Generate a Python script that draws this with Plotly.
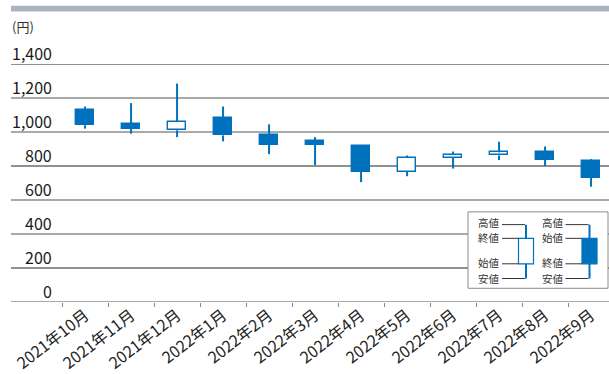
import plotly.graph_objects as go

# Monthly share price (yen)
months = ["2021年10月", "2021年11月", "2021年12月", "2022年1月", "2022年2月", "2022年3月",
          "2022年4月", "2022年5月", "2022年6月", "2022年7月", "2022年8月", "2022年9月"]
open_ = [1130, 1050, 1010, 1080, 980, 945, 915, 765, 848, 862, 885, 828]
high = [1150, 1170, 1285, 1150, 1045, 970, 915, 862, 885, 943, 915, 840]
low = [1020, 990, 970, 945, 870, 805, 705, 740, 785, 835, 800, 678]
close = [1040, 1020, 1060, 980, 925, 925, 765, 848, 865, 880, 835, 732]

y_ticks = [0, 200, 400, 600, 800, 1000, 1200, 1400]
dark_grid = {200, 800, 1400}

BLUE = "#0071BC"
FONT = "Noto Sans CJK JP"
W, H = 609, 374
ML, MR, MT, MB = 11, 0, 64, 67
PW, PH = W - ML - MR, H - MT - MB


def px_x(p):
    return (p - ML) / PW


def px_y(p):
    return (H - MB - p) / PH


fig = go.Figure()

# candle bodies
body_base = [min(o, c) for o, c in zip(open_, close)]
body_len = [abs(c - o) for o, c in zip(open_, close)]
body_fill = [BLUE if c < o else "white" for o, c in zip(open_, close)]
fig.add_trace(go.Bar(
    x=months, y=body_len, base=body_base, width=0.41,
    marker=dict(color=body_fill, line=dict(color=BLUE, width=1.4)),
    hoverinfo="skip", showlegend=False,
))

# wicks, split above and below the body
wx, wy = [], []
for m, o, h, l, c in zip(months, open_, high, low, close):
    top, bot = max(o, c), min(o, c)
    if h > top:
        wx += [m, m, None]
        wy += [top, h, None]
    if l < bot:
        wx += [m, m, None]
        wy += [l, bot, None]
fig.add_trace(go.Scatter(
    x=wx, y=wy, mode="lines", line=dict(color=BLUE, width=2),
    hoverinfo="skip", showlegend=False, cliponaxis=False,
))

shapes = []
annotations = []

# horizontal grid
for v in y_ticks:
    shapes.append(dict(
        type="line", xref="paper", yref="y", x0=0, x1=1, y0=v, y1=v,
        line=dict(color="#222222" if v in dark_grid else "#8c8c8c",
                  width=1 if v in dark_grid else 1.6),
        layer="below",
    ))
    annotations.append(dict(
        xref="paper", yref="y", x=px_x(54), y=v, xanchor="right", yanchor="middle",
        yshift=11, text=f"{v:,}", showarrow=False,
        font=dict(family=FONT, size=16, color="#1a1a1a"),
    ))

# header bar
shapes.append(dict(type="rect", xref="paper", yref="paper",
                   x0=px_x(11), x1=px_x(612), y0=px_y(4.5), y1=px_y(10.5),
                   fillcolor="#a9b4c0", line=dict(width=0), layer="below"))
annotations.append(dict(xref="paper", yref="paper", x=px_x(10), y=px_y(26),
                        xanchor="left", yanchor="middle", text="(円)", showarrow=False,
                        font=dict(family=FONT, size=13, color="#333333")))

# key box
shapes.append(dict(type="rect", xref="paper", yref="paper",
                   x0=px_x(468), x1=px_x(608), y0=px_y(215), y1=px_y(293),
                   fillcolor="white", line=dict(color="#8c8c8c", width=1), layer="above"))


def key_candle(cx, filled, labels):
    y_hi, y_top, y_bot, y_lo = 228, 242, 268, 283
    shapes.append(dict(type="line", xref="paper", yref="paper",
                       x0=px_x(cx), x1=px_x(cx), y0=px_y(y_hi), y1=px_y(y_lo),
                       line=dict(color=BLUE, width=2), layer="above"))
    shapes.append(dict(type="rect", xref="paper", yref="paper",
                       x0=px_x(cx - 7.5), x1=px_x(cx + 7.5), y0=px_y(y_top), y1=px_y(y_bot),
                       fillcolor=BLUE if filled else "white",
                       line=dict(color=BLUE, width=1.2), layer="above"))
    tx = cx - 25
    text_y = [226, 241.5, 266.5, 282.5]
    for lab, yy, ty, x_end in zip(labels, [y_hi, y_top, y_bot, y_lo], text_y,
                                  [cx - 1, cx - 7.5, cx - 7.5, cx - 1]):
        shapes.append(dict(type="line", xref="paper", yref="paper",
                           x0=px_x(tx + 1), x1=px_x(x_end), y0=px_y(yy), y1=px_y(yy),
                           line=dict(color="#333333", width=1), layer="above"))
        annotations.append(dict(xref="paper", yref="paper", x=px_x(tx), y=px_y(ty),
                                xanchor="right", yanchor="middle", text=lab, showarrow=False,
                                height=11, borderpad=0, valign="middle",
                                font=dict(family=FONT, size=10.5, color="#333333")))


key_candle(526, False, ["高値", "終値", "始値", "安値"])
key_candle(589.5, True, ["高値", "始値", "終値", "安値"])

fig.update_layout(
    width=W, height=H,
    margin=dict(l=ML, r=MR, t=MT, b=MB),
    paper_bgcolor="white", plot_bgcolor="white",
    shapes=shapes, annotations=annotations,
    bargap=0,
    xaxis=dict(
        type="category", categoryorder="array", categoryarray=months,
        range=[-1.61, 11.39], tickson="boundaries",
        ticks="outside", ticklen=4, tickcolor="#888888", tickwidth=1,
        showgrid=False, showline=False, zeroline=False,
        tickangle=-38, tickfont=dict(family=FONT, size=16, color="#222222"),
    ),
    yaxis=dict(
        range=[0, 1400], showgrid=False, zeroline=False, showline=False,
        showticklabels=False, ticks="",
    ),
)

fig.write_html("out.html")
